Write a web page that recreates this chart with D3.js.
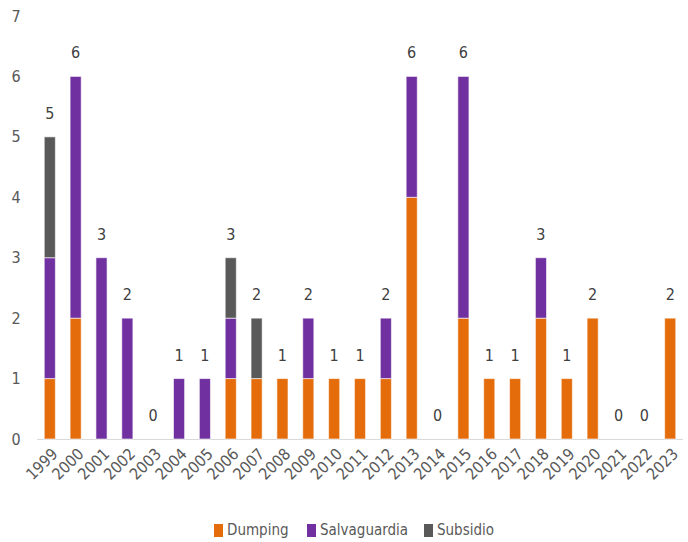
<!DOCTYPE html>
<html><head><meta charset="utf-8">
<script src="https://cdn.jsdelivr.net/npm/d3@7"></script>
<style>body{margin:0;background:#fff}svg{display:block}</style>
</head><body>
<script>
const years = ["1999","2000","2001","2002","2003","2004","2005","2006","2007","2008","2009","2010","2011","2012","2013","2014","2015","2016","2017","2018","2019","2020","2021","2022","2023"];
const dumping =      [1,2,0,0,0,0,0,1,1,1,1,1,1,1,4,0,2,1,1,2,1,2,0,0,2];
const salvaguardia = [2,4,3,2,0,1,1,1,0,0,1,0,0,1,2,0,4,0,0,1,0,0,0,0,0];
const subsidio =     [2,0,0,0,0,0,0,1,1,0,0,0,0,0,0,0,0,0,0,0,0,0,0,0,0];
const seriesNames = ["Dumping","Salvaguardia","Subsidio"];
const colors = ["#E46C0A","#7030A0","#595959"];
const yTicks = [0,1,2,3,4,5,6,7];

const W=688,H=542;
const font = "'DejaVu Sans Condensed','DejaVu Sans',sans-serif";
const svg = d3.select("body").append("svg").attr("width",W).attr("height",H);
const x = d3.scaleBand().domain(years).range([37,683]).paddingInner(0.57).paddingOuter(0.28);
const y = d3.scaleLinear().domain([0,7]).range([439,16]);

const table = years.map((yr,i)=>({year:yr,Dumping:dumping[i],Salvaguardia:salvaguardia[i],Subsidio:subsidio[i]}));
const stack = d3.stack().keys(seriesNames)(table);

// y axis labels
svg.append("g").selectAll("text").data(yTicks).join("text")
  .attr("x",16).attr("y",d=>y(d)).attr("dy","0.35em").attr("text-anchor","middle")
  .attr("font-family",font).attr("font-size",16).attr("fill","#595959").text(d=>d);

// baseline
svg.append("line").attr("x1",37).attr("x2",683).attr("y1",y(0)+0.5).attr("y2",y(0)+0.5)
  .attr("stroke","#d9d9d9").attr("stroke-width",1);

// bars
svg.append("g").selectAll("g").data(stack).join("g").attr("fill",(d,i)=>colors[i])
  .selectAll("rect").data(d=>d).join("rect")
  .attr("x",d=>x(d.data.year)).attr("width",x.bandwidth())
  .attr("y",d=>y(d[1])).attr("height",d=>Math.max(0,y(d[0])-y(d[1])))
  .attr("stroke","rgba(255,255,255,0.6)").attr("stroke-width",1);

// totals
svg.append("g").selectAll("text").data(table).join("text")
  .attr("x",d=>x(d.year)+x.bandwidth()/2)
  .attr("y",d=>y(d.Dumping+d.Salvaguardia+d.Subsidio)-18)
  .attr("text-anchor","middle").attr("font-family",font).attr("font-size",16).attr("fill","#404040")
  .text(d=>d.Dumping+d.Salvaguardia+d.Subsidio);

// x labels
svg.append("g").selectAll("text").data(years).join("text")
  .attr("transform",d=>`translate(${x(d)+x.bandwidth()/2+5},${y(0)+12}) rotate(-45)`)
  .attr("text-anchor","end").attr("dy","0.35em")
  .attr("font-family",font).attr("font-size",16).attr("fill","#595959").text(d=>d);

// legend
const legX=[214,307,424];
const lg = svg.append("g").selectAll("g").data(seriesNames).join("g")
  .attr("transform",(d,i)=>`translate(${legX[i]},${530})`);
lg.append("rect").attr("x",0).attr("y",-6).attr("width",9).attr("height",13).attr("fill",(d,i)=>colors[i]);
lg.append("text").attr("x",13).attr("y",0).attr("dy","0.35em").attr("font-family",font)
  .attr("font-size",15).attr("fill","#595959").text(d=>d);
</script>
</body></html>
